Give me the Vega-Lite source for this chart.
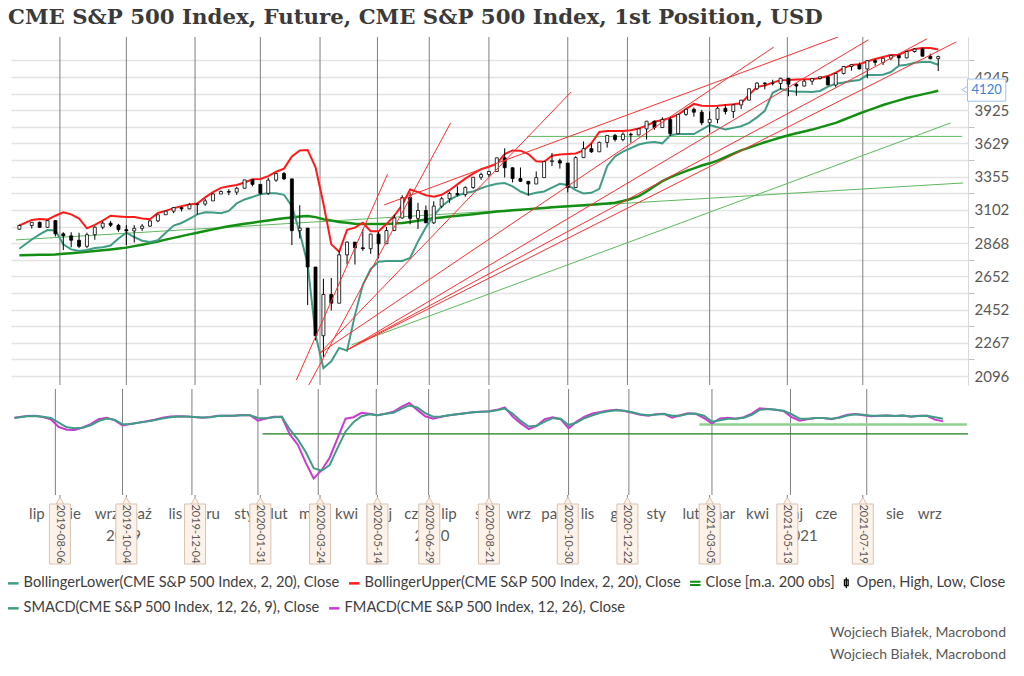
{
"$schema":"https://vega.github.io/schema/vega-lite/v6.json",
"background":"white",
"padding":{"left":6,"top":7,"right":4,"bottom":4},
"title":{"text":"CME S&P 500 Index, Future, CME S&P 500 Index, 1st Position, USD","anchor":"start","frame":"bounds","font":"DejaVu Serif","fontSize":21.3,"fontWeight":"bold","color":"#3a3a3a","offset":8,"dx":2},
"config":{"view":{"stroke":null},"font":"Lato","axis":{"labelFont":"Lato","labelColor":"#595959","labelFontSize":15,"domainColor":"#d9d9d9","tickColor":"#bfbfbf"}},
"datasets":{
"ev":[{"d":"2019-08-06","t":"2019-08-06"},{"d":"2019-10-04","t":"2019-10-04"},{"d":"2019-12-04","t":"2019-12-04"},{"d":"2020-01-31","t":"2020-01-31"},{"d":"2020-03-24","t":"2020-03-24"},{"d":"2020-05-14","t":"2020-05-14"},{"d":"2020-06-29","t":"2020-06-29"},{"d":"2020-08-21","t":"2020-08-21"},{"d":"2020-10-30","t":"2020-10-30"},{"d":"2020-12-22","t":"2020-12-22"},{"d":"2021-03-05","t":"2021-03-05"},{"d":"2021-05-13","t":"2021-05-13"},{"d":"2021-07-19","t":"2021-07-19"}],
"tr":[{"id":"r1","k":"r","d":"2020-03-03","v":2076},{"id":"r1","k":"r","d":"2020-05-23","v":3377},
{"id":"r2","k":"r","d":"2020-03-14","v":2052},{"id":"r2","k":"r","d":"2020-07-18","v":3809},
{"id":"r3","k":"r","d":"2020-03-23","v":2208},{"id":"r3","k":"r","d":"2020-11-02","v":4098},
{"id":"r4","k":"r","d":"2020-03-23","v":2208},{"id":"r4","k":"r","d":"2021-05-01","v":4557},
{"id":"r5","k":"r","d":"2020-04-17","v":2229},{"id":"r5","k":"r","d":"2021-07-24","v":4635},
{"id":"r6","k":"r","d":"2020-04-17","v":2229},{"id":"r6","k":"r","d":"2021-10-10","v":4612},
{"id":"r7","k":"r","d":"2020-04-17","v":2229},{"id":"r7","k":"r","d":"2021-09-14","v":4646},
{"id":"r8","k":"r","d":"2020-05-20","v":3139},{"id":"r8","k":"r","d":"2021-06-27","v":4666},
{"id":"g1","k":"g","d":"2020-09-24","v":3690},{"id":"g1","k":"g","d":"2021-10-15","v":3690},
{"id":"g2","k":"g","d":"2019-06-28","v":2890},{"id":"g2","k":"g","d":"2021-10-16","v":3306},
{"id":"g3","k":"g","d":"2020-04-21","v":2256},{"id":"g3","k":"g","d":"2021-10-05","v":3809}],
"hl":[{"id":"h1","d":"2020-02-04","v":-38},{"id":"h1","d":"2021-10-16","v":-38},{"id":"h2","d":"2021-02-22","v":0},{"id":"h2","d":"2021-10-15","v":0}],
"w":[
{"d":"2019-07-01","o":2964,"h":2996,"l":2962,"c":2990,"u":2990,"b":2830,"m":2787,"f":28,"s":27},
{"d":"2019-07-12","o":2990,"h":3014,"l":2969,"c":3013,"u":3030,"b":2893,"m":2789,"f":35,"s":34},
{"d":"2019-07-19","o":3013,"h":3018,"l":2975,"c":2977,"u":3037,"b":2928,"m":2790,"f":36,"s":35},
{"d":"2019-07-26","o":2977,"h":3027,"l":2976,"c":3025,"u":3032,"b":2958,"m":2791,"f":31,"s":32},
{"d":"2019-08-02","o":3025,"h":3028,"l":2914,"c":2932,"u":3060,"b":2955,"m":2793,"f":22,"s":27},
{"d":"2019-08-09","o":2932,"h":2943,"l":2822,"c":2918,"u":3085,"b":2860,"m":2797,"f":-10,"s":8},
{"d":"2019-08-16","o":2918,"h":2943,"l":2840,"c":2888,"u":3070,"b":2826,"m":2801,"f":-21,"s":-11},
{"d":"2019-08-23","o":2888,"h":2939,"l":2836,"c":2847,"u":3040,"b":2815,"m":2805,"f":-22,"s":-15},
{"d":"2019-08-30","o":2847,"h":2940,"l":2834,"c":2926,"u":2970,"b":2822,"m":2810,"f":-12,"s":-13},
{"d":"2019-09-06","o":2926,"h":2985,"l":2891,"c":2978,"u":2995,"b":2835,"m":2815,"f":2,"s":-3},
{"d":"2019-09-13","o":2978,"h":3020,"l":2964,"c":3007,"u":3025,"b":2841,"m":2820,"f":22,"s":14},
{"d":"2019-09-20","o":3007,"h":3022,"l":2980,"c":2992,"u":3060,"b":2852,"m":2826,"f":28,"s":25},
{"d":"2019-09-27","o":2992,"h":3002,"l":2946,"c":2961,"u":3055,"b":2900,"m":2832,"f":18,"s":20},
{"d":"2019-10-04","o":2961,"h":2993,"l":2855,"c":2952,"u":3050,"b":2940,"m":2838,"f":-4,"s":1},
{"d":"2019-10-11","o":2952,"h":2993,"l":2873,"c":2970,"u":3050,"b":2910,"m":2848,"f":2,"s":2},
{"d":"2019-10-18","o":2970,"h":3000,"l":2952,"c":2986,"u":3040,"b":2885,"m":2858,"f":8,"s":7},
{"d":"2019-10-25","o":2986,"h":3028,"l":2980,"c":3023,"u":3035,"b":2876,"m":2869,"f":14,"s":12},
{"d":"2019-11-01","o":3023,"h":3066,"l":3014,"c":3067,"u":3080,"b":2888,"m":2880,"f":20,"s":18},
{"d":"2019-11-08","o":3067,"h":3098,"l":3066,"c":3093,"u":3095,"b":2940,"m":2892,"f":28,"s":25},
{"d":"2019-11-15","o":3093,"h":3121,"l":3078,"c":3120,"u":3115,"b":2990,"m":2904,"f":33,"s":30},
{"d":"2019-11-22","o":3120,"h":3127,"l":3091,"c":3110,"u":3130,"b":3008,"m":2916,"f":34,"s":33},
{"d":"2019-11-29","o":3110,"h":3154,"l":3107,"c":3141,"u":3142,"b":3037,"m":2928,"f":33,"s":33},
{"d":"2019-12-06","o":3141,"h":3150,"l":3070,"c":3146,"u":3150,"b":3070,"m":2940,"f":31,"s":31},
{"d":"2019-12-13","o":3146,"h":3183,"l":3132,"c":3169,"u":3195,"b":3085,"m":2952,"f":28,"s":29},
{"d":"2019-12-20","o":3169,"h":3226,"l":3169,"c":3221,"u":3235,"b":3084,"m":2963,"f":31,"s":30},
{"d":"2019-12-27","o":3221,"h":3247,"l":3221,"c":3240,"u":3268,"b":3078,"m":2974,"f":36,"s":35},
{"d":"2020-01-03","o":3240,"h":3258,"l":3212,"c":3235,"u":3280,"b":3095,"m":2985,"f":36,"s":36},
{"d":"2020-01-10","o":3235,"h":3276,"l":3214,"c":3265,"u":3290,"b":3150,"m":2994,"f":36,"s":36},
{"d":"2020-01-17","o":3265,"h":3330,"l":3264,"c":3330,"u":3310,"b":3180,"m":3002,"f":39,"s":38},
{"d":"2020-01-24","o":3330,"h":3337,"l":3280,"c":3295,"u":3335,"b":3198,"m":3010,"f":38,"s":38},
{"d":"2020-01-31","o":3295,"h":3295,"l":3214,"c":3226,"u":3337,"b":3219,"m":3018,"f":16,"s":27},
{"d":"2020-02-07","o":3226,"h":3347,"l":3214,"c":3328,"u":3360,"b":3226,"m":3026,"f":25,"s":26},
{"d":"2020-02-14","o":3328,"h":3385,"l":3315,"c":3380,"u":3395,"b":3226,"m":3034,"f":32,"s":30},
{"d":"2020-02-21","o":3380,"h":3393,"l":3328,"c":3338,"u":3420,"b":3215,"m":3041,"f":32,"s":32},
{"d":"2020-02-28","o":3338,"h":3338,"l":2855,"c":2954,"u":3520,"b":3130,"m":3048,"f":-40,"s":-20},
{"d":"2020-03-06","o":2954,"h":3137,"l":2901,"c":2972,"u":3570,"b":2940,"m":3054,"f":-82,"s":-60},
{"d":"2020-03-13","o":2972,"h":2972,"l":2478,"c":2711,"u":3574,"b":2730,"m":3058,"f":-155,"s":-112},
{"d":"2020-03-20","o":2711,"h":2711,"l":2280,"c":2305,"u":3430,"b":2310,"m":3050,"f":-220,"s":-178},
{"d":"2020-03-27","o":2305,"h":2637,"l":2191,"c":2541,"u":3150,"b":2135,"m":3035,"f":-185,"s":-188},
{"d":"2020-04-03","o":2541,"h":2642,"l":2447,"c":2489,"u":2860,"b":2170,"m":3025,"f":-135,"s":-165},
{"d":"2020-04-10","o":2489,"h":2818,"l":2489,"c":2790,"u":2810,"b":2240,"m":3015,"f":-55,"s":-95},
{"d":"2020-04-17","o":2790,"h":2880,"l":2727,"c":2875,"u":2960,"b":2225,"m":3009,"f":24,"s":-28},
{"d":"2020-04-24","o":2875,"h":2876,"l":2727,"c":2837,"u":2975,"b":2420,"m":3003,"f":30,"s":10},
{"d":"2020-05-01","o":2837,"h":2965,"l":2816,"c":2831,"u":3010,"b":2600,"m":3001,"f":48,"s":34},
{"d":"2020-05-08","o":2831,"h":2933,"l":2797,"c":2930,"u":2950,"b":2700,"m":3000,"f":44,"s":42},
{"d":"2020-05-15","o":2930,"h":2945,"l":2766,"c":2864,"u":2950,"b":2745,"m":3000,"f":38,"s":38},
{"d":"2020-05-22","o":2864,"h":2980,"l":2864,"c":2955,"u":3000,"b":2750,"m":3000,"f":44,"s":44},
{"d":"2020-05-29","o":2955,"h":3068,"l":2955,"c":3044,"u":3060,"b":2750,"m":3004,"f":52,"s":48},
{"d":"2020-06-05","o":3044,"h":3212,"l":3038,"c":3194,"u":3139,"b":2750,"m":3008,"f":72,"s":64},
{"d":"2020-06-12","o":3194,"h":3233,"l":2999,"c":3041,"u":3255,"b":2770,"m":3015,"f":88,"s":78},
{"d":"2020-06-19","o":3041,"h":3155,"l":2966,"c":3098,"u":3235,"b":2880,"m":3024,"f":60,"s":70},
{"d":"2020-06-26","o":3098,"h":3135,"l":3007,"c":3009,"u":3212,"b":2978,"m":3033,"f":34,"s":47},
{"d":"2020-07-03","o":3009,"h":3166,"l":3001,"c":3130,"u":3200,"b":3060,"m":3042,"f":24,"s":32},
{"d":"2020-07-10","o":3130,"h":3200,"l":3115,"c":3185,"u":3215,"b":3130,"m":3048,"f":32,"s":33},
{"d":"2020-07-17","o":3185,"h":3238,"l":3155,"c":3225,"u":3250,"b":3175,"m":3054,"f":38,"s":38},
{"d":"2020-07-24","o":3225,"h":3280,"l":3201,"c":3216,"u":3295,"b":3210,"m":3059,"f":42,"s":42},
{"d":"2020-07-31","o":3216,"h":3279,"l":3200,"c":3271,"u":3340,"b":3228,"m":3065,"f":46,"s":46},
{"d":"2020-08-07","o":3271,"h":3352,"l":3260,"c":3351,"u":3380,"b":3240,"m":3071,"f":50,"s":50},
{"d":"2020-08-14","o":3351,"h":3388,"l":3330,"c":3373,"u":3415,"b":3265,"m":3078,"f":52,"s":52},
{"d":"2020-08-21","o":3373,"h":3399,"l":3355,"c":3397,"u":3435,"b":3285,"m":3084,"f":54,"s":53},
{"d":"2020-08-28","o":3397,"h":3509,"l":3396,"c":3508,"u":3460,"b":3300,"m":3090,"f":60,"s":58},
{"d":"2020-09-04","o":3508,"h":3588,"l":3349,"c":3427,"u":3540,"b":3305,"m":3095,"f":70,"s":65},
{"d":"2020-09-11","o":3427,"h":3430,"l":3310,"c":3341,"u":3570,"b":3280,"m":3099,"f":32,"s":44},
{"d":"2020-09-18","o":3341,"h":3429,"l":3313,"c":3319,"u":3568,"b":3240,"m":3104,"f":5,"s":15},
{"d":"2020-09-25","o":3319,"h":3320,"l":3209,"c":3298,"u":3540,"b":3215,"m":3108,"f":-18,"s":-8},
{"d":"2020-10-02","o":3298,"h":3397,"l":3297,"c":3348,"u":3480,"b":3230,"m":3112,"f":-5,"s":-5},
{"d":"2020-10-09","o":3348,"h":3482,"l":3348,"c":3477,"u":3475,"b":3240,"m":3117,"f":22,"s":12},
{"d":"2020-10-16","o":3477,"h":3549,"l":3440,"c":3484,"u":3525,"b":3270,"m":3121,"f":30,"s":26},
{"d":"2020-10-23","o":3484,"h":3502,"l":3420,"c":3465,"u":3535,"b":3300,"m":3125,"f":22,"s":24},
{"d":"2020-10-30","o":3465,"h":3465,"l":3233,"c":3270,"u":3540,"b":3290,"m":3129,"f":-15,"s":-2},
{"d":"2020-11-06","o":3270,"h":3521,"l":3268,"c":3510,"u":3545,"b":3250,"m":3133,"f":12,"s":8},
{"d":"2020-11-13","o":3510,"h":3646,"l":3506,"c":3585,"u":3570,"b":3225,"m":3136,"f":32,"s":26},
{"d":"2020-11-20","o":3585,"h":3628,"l":3550,"c":3558,"u":3630,"b":3230,"m":3140,"f":45,"s":38},
{"d":"2020-11-27","o":3558,"h":3645,"l":3558,"c":3638,"u":3729,"b":3260,"m":3145,"f":51,"s":48},
{"d":"2020-12-04","o":3638,"h":3700,"l":3594,"c":3699,"u":3737,"b":3440,"m":3150,"f":57,"s":54},
{"d":"2020-12-11","o":3699,"h":3712,"l":3645,"c":3663,"u":3737,"b":3520,"m":3155,"f":60,"s":58},
{"d":"2020-12-18","o":3663,"h":3726,"l":3647,"c":3709,"u":3738,"b":3560,"m":3168,"f":55,"s":56},
{"d":"2020-12-25","o":3709,"h":3723,"l":3636,"c":3703,"u":3744,"b":3590,"m":3183,"f":48,"s":50},
{"d":"2021-01-01","o":3703,"h":3760,"l":3700,"c":3756,"u":3760,"b":3620,"m":3205,"f":40,"s":42},
{"d":"2021-01-08","o":3756,"h":3826,"l":3663,"c":3825,"u":3785,"b":3635,"m":3240,"f":36,"s":38},
{"d":"2021-01-15","o":3825,"h":3830,"l":3749,"c":3768,"u":3820,"b":3642,"m":3280,"f":42,"s":41},
{"d":"2021-01-22","o":3768,"h":3861,"l":3768,"c":3841,"u":3835,"b":3630,"m":3320,"f":44,"s":43},
{"d":"2021-01-29","o":3841,"h":3870,"l":3694,"c":3714,"u":3855,"b":3700,"m":3350,"f":28,"s":36},
{"d":"2021-02-05","o":3714,"h":3888,"l":3710,"c":3887,"u":3885,"b":3710,"m":3375,"f":38,"s":36},
{"d":"2021-02-12","o":3887,"h":3937,"l":3874,"c":3934,"u":3935,"b":3710,"m":3400,"f":46,"s":44},
{"d":"2021-02-19","o":3934,"h":3950,"l":3866,"c":3907,"u":3984,"b":3710,"m":3422,"f":44,"s":44},
{"d":"2021-02-26","o":3907,"h":3929,"l":3789,"c":3811,"u":3967,"b":3750,"m":3445,"f":26,"s":36},
{"d":"2021-03-05","o":3811,"h":3915,"l":3723,"c":3842,"u":3965,"b":3790,"m":3463,"f":4,"s":12},
{"d":"2021-03-12","o":3842,"h":3960,"l":3806,"c":3943,"u":3968,"b":3770,"m":3485,"f":25,"s":18},
{"d":"2021-03-19","o":3943,"h":3983,"l":3886,"c":3913,"u":3975,"b":3750,"m":3513,"f":28,"s":24},
{"d":"2021-03-26","o":3913,"h":3978,"l":3853,"c":3975,"u":3980,"b":3765,"m":3542,"f":24,"s":24},
{"d":"2021-04-02","o":3975,"h":4020,"l":3937,"c":4020,"u":3990,"b":3780,"m":3570,"f":30,"s":28},
{"d":"2021-04-09","o":4020,"h":4130,"l":4020,"c":4129,"u":4070,"b":3810,"m":3594,"f":45,"s":40},
{"d":"2021-04-16","o":4129,"h":4192,"l":4118,"c":4185,"u":4147,"b":3860,"m":3617,"f":66,"s":60},
{"d":"2021-04-23","o":4185,"h":4194,"l":4124,"c":4180,"u":4162,"b":3920,"m":3640,"f":64,"s":63},
{"d":"2021-04-30","o":4180,"h":4218,"l":4162,"c":4181,"u":4190,"b":4090,"m":3660,"f":60,"s":60},
{"d":"2021-05-07","o":4181,"h":4238,"l":4126,"c":4233,"u":4214,"b":4130,"m":3680,"f":55,"s":56},
{"d":"2021-05-14","o":4233,"h":4236,"l":4057,"c":4174,"u":4216,"b":4110,"m":3700,"f":30,"s":42},
{"d":"2021-05-21","o":4174,"h":4183,"l":4061,"c":4156,"u":4220,"b":4100,"m":3717,"f":16,"s":24},
{"d":"2021-05-28","o":4156,"h":4219,"l":4152,"c":4204,"u":4222,"b":4100,"m":3733,"f":22,"s":24},
{"d":"2021-06-04","o":4204,"h":4233,"l":4167,"c":4230,"u":4224,"b":4098,"m":3750,"f":27,"s":27},
{"d":"2021-06-11","o":4230,"h":4249,"l":4220,"c":4247,"u":4235,"b":4108,"m":3770,"f":27,"s":27},
{"d":"2021-06-18","o":4247,"h":4257,"l":4165,"c":4166,"u":4255,"b":4150,"m":3790,"f":22,"s":24},
{"d":"2021-06-25","o":4166,"h":4286,"l":4144,"c":4281,"u":4290,"b":4178,"m":3810,"f":30,"s":28},
{"d":"2021-07-02","o":4281,"h":4356,"l":4271,"c":4352,"u":4335,"b":4190,"m":3838,"f":40,"s":37},
{"d":"2021-07-09","o":4352,"h":4372,"l":4310,"c":4370,"u":4368,"b":4205,"m":3866,"f":43,"s":42},
{"d":"2021-07-16","o":4370,"h":4393,"l":4321,"c":4327,"u":4375,"b":4215,"m":3895,"f":38,"s":40},
{"d":"2021-07-23","o":4327,"h":4415,"l":4233,"c":4412,"u":4405,"b":4265,"m":3921,"f":34,"s":36},
{"d":"2021-07-30","o":4412,"h":4430,"l":4360,"c":4395,"u":4430,"b":4265,"m":3947,"f":36,"s":36},
{"d":"2021-08-06","o":4395,"h":4440,"l":4367,"c":4437,"u":4450,"b":4268,"m":3974,"f":37,"s":37},
{"d":"2021-08-13","o":4437,"h":4468,"l":4416,"c":4468,"u":4472,"b":4296,"m":3996,"f":35,"s":35},
{"d":"2021-08-20","o":4468,"h":4482,"l":4367,"c":4442,"u":4475,"b":4360,"m":4018,"f":37,"s":37},
{"d":"2021-08-27","o":4442,"h":4513,"l":4435,"c":4509,"u":4510,"b":4370,"m":4040,"f":32,"s":33},
{"d":"2021-09-03","o":4509,"h":4545,"l":4497,"c":4535,"u":4535,"b":4390,"m":4058,"f":36,"s":35},
{"d":"2021-09-10","o":4535,"h":4549,"l":4459,"c":4459,"u":4546,"b":4399,"m":4075,"f":36,"s":36},
{"d":"2021-09-17","o":4459,"h":4486,"l":4427,"c":4433,"u":4546,"b":4399,"m":4092,"f":20,"s":30},
{"d":"2021-09-24","o":4433,"h":4465,"l":4306,"c":4455,"u":4530,"b":4370,"m":4110,"f":13,"s":24}
]},
"spacing":4,
"bounds":"flush",
"resolve":{"scale":{"color":"independent","x":"independent","y":"independent"}},
"vconcat":[
{
"width":957,"height":348,
"resolve":{"axis":{"y":"independent"}},
"layer":[
{"data":{"name":"ev"},"mark":{"type":"rule","color":"#7f7f7f","strokeWidth":1},"encoding":{"x":{"field":"d","type":"temporal","scale":{"type":"utc","domain":[{"year":2019,"month":6,"date":28,"utc":true},{"year":2021,"month":10,"date":16,"utc":true}]},"axis":null}}},
{"data":{"name":"tr"},"transform":[{"filter":"datum.k == 'g'"}],"mark":{"type":"line","color":"#5fb85f","strokeWidth":1,"clip":true},"encoding":{"x":{"field":"d","type":"temporal","axis":null},"y":{"field":"v","type":"quantitative","scale":{"type":"log","domain":[2052,4666],"nice":false,"zero":false},"axis":null},"detail":{"field":"id"}}},
{"data":{"name":"w"},"mark":{"type":"line","strokeWidth":2.5},"encoding":{"x":{"field":"d","type":"temporal","axis":null},"y":{"field":"m","type":"quantitative","axis":{"orient":"right","title":null,"values":[2096,2180,2267,2358,2452,2550,2652,2758,2868,2983,3102,3226,3355,3489,3629,3774,3925,4082,4245,4415],"labelExpr":"indexof([2096,2267,2452,2652,2868,3102,3355,3629,3925,4245], datum.value) >= 0 ? format(datum.value, 'd') : ''","grid":true,"gridColor":"#e4e4e4","gridWidth":1.5,"ticks":false,"domain":false,"labelOverlap":false,"labelFlush":false,"labelPadding":6}},"color":{"datum":"Close [m.a. 200 obs]","scale":{"domain":["BollingerLower(CME S&P 500 Index, 2, 20), Close","BollingerUpper(CME S&P 500 Index, 2, 20), Close","Close [m.a. 200 obs]","Open, High, Low, Close"],"range":["#3f9c85","#ff1a1a","#138f13","#000000"]},"legend":{"orient":"none","legendX":-5,"legendY":538,"direction":"horizontal","title":null,"symbolType":"stroke","symbolStrokeWidth":2.5,"symbolSize":110,"labelFont":"Lato","labelFontSize":14.6,"labelColor":"#404040","labelLimit":600,"columnPadding":4,"labelOffset":3,"encode":{"symbols":{"update":{"shape":{"signal":"datum.value == 'Open, High, Low, Close' ? 'M0,-1L0,1M-0.35,-0.55L0.35,-0.55L0.35,0.55L-0.35,0.55Z' : (datum.value == 'Close [m.a. 200 obs]' ? 'M-1,-0.3L1,-0.3M-1,0.3L1,0.3' : 'stroke')"},"strokeWidth":{"signal":"datum.value == 'Open, High, Low, Close' ? 1.3 : (datum.value == 'Close [m.a. 200 obs]' ? 2 : 2.5)"}}}}}}}},
{"data":{"name":"w"},"mark":{"type":"line","strokeWidth":2},"encoding":{"x":{"field":"d","type":"temporal","axis":null},"y":{"field":"b","type":"quantitative","axis":{"orient":"right","title":null,"values":[2180,2358,2550,2758,2983,3226,3489,3774,4082,4415],"labels":false,"grid":false,"ticks":true,"tickSize":6,"domain":true}},"color":{"datum":"BollingerLower(CME S&P 500 Index, 2, 20), Close"}}},
{"data":{"name":"w"},"mark":{"type":"line","strokeWidth":2},"encoding":{"x":{"field":"d","type":"temporal","axis":null},"y":{"field":"u","type":"quantitative","axis":null},"color":{"datum":"BollingerUpper(CME S&P 500 Index, 2, 20), Close"}}},
{"data":{"name":"w"},"mark":{"type":"rule","strokeWidth":1},"encoding":{"x":{"field":"d","type":"temporal","axis":null},"y":{"field":"l","type":"quantitative","axis":null},"y2":{"field":"h"},"color":{"datum":"Open, High, Low, Close"}}},
{"data":{"name":"w"},"mark":{"type":"bar","width":3,"stroke":"#000000","strokeWidth":0.8},"encoding":{"x":{"field":"d","type":"temporal","axis":null},"y":{"field":"o","type":"quantitative","axis":null},"y2":{"field":"c"},"fill":{"condition":{"test":"datum.c < datum.o","value":"#000000"},"value":"#ffffff"}}},
{"data":{"name":"tr"},"transform":[{"filter":"datum.k == 'r'"}],"mark":{"type":"line","color":"#ff3030","strokeWidth":1,"clip":true},"encoding":{"x":{"field":"d","type":"temporal","axis":null},"y":{"field":"v","type":"quantitative","axis":null},"detail":{"field":"id"}}},
{"data":{"values":[{}]},"mark":{"type":"point","shape":"triangle-left","filled":true,"fill":"#ffffff","stroke":"#9cc3ef","strokeWidth":1,"size":60,"opacity":1},"encoding":{"x":{"datum":{"year":2021,"month":10,"date":18,"utc":true},"type":"temporal","axis":null},"y":{"datum":4120,"type":"quantitative","axis":null}}},
{"data":{"values":[{}]},"mark":{"type":"rect","fill":"#ffffff","stroke":"#9cc3ef","strokeWidth":1},"encoding":{"x":{"datum":{"year":2021,"month":10,"date":20,"utc":true},"type":"temporal","axis":null},"x2":{"datum":{"year":2021,"month":11,"date":23,"utc":true}},"y":{"datum":4010,"type":"quantitative","axis":null},"y2":{"datum":4225}}},
{"data":{"values":[{}]},"mark":{"type":"text","text":"4120","color":"#3c82dc","fontSize":13,"font":"Lato"},"encoding":{"x":{"datum":{"year":2021,"month":11,"date":6,"utc":true},"type":"temporal","axis":null},"y":{"datum":4120,"type":"quantitative","axis":null}}}
]
},
{
"spacing":0,
"bounds":"flush",
"resolve":{"scale":{"color":"independent","x":"independent","y":"independent"}},
"vconcat":[
{
"width":957,"height":106,
"layer":[
{"data":{"name":"ev"},"mark":{"type":"rule","color":"#7f7f7f","strokeWidth":1},"encoding":{"x":{"field":"d","type":"temporal","scale":{"type":"utc","domain":[{"year":2019,"month":6,"date":28,"utc":true},{"year":2021,"month":10,"date":16,"utc":true}]},"axis":{"orient":"bottom","title":null,"tickCount":{"interval":"month","step":1},"labels":false,"ticks":true,"tickSize":4,"tickColor":"#a6a6a6","domain":true,"domainColor":"#d9d9d9","grid":false}}}},
{"data":{"name":"hl"},"transform":[{"filter":"datum.id == 'h1'"}],"mark":{"type":"line","color":"#1e7d1e","strokeWidth":1.2},"encoding":{"x":{"field":"d","type":"temporal","axis":null},"y":{"field":"v","type":"quantitative","scale":{"domain":[-287,145],"nice":false,"zero":false},"axis":{"orient":"right","title":null,"values":[-250,-200,-150,-100,-50,0,50,100],"labelExpr":"(datum.value == 50 || datum.value == -100 || datum.value == -250) ? format(datum.value, 'd') : ''","grid":true,"gridColor":"#e4e4e4","gridWidth":1.5,"ticks":true,"tickSize":6,"domain":true,"labelOverlap":false,"labelFlush":false,"labelPadding":6}}}},
{"data":{"name":"hl"},"transform":[{"filter":"datum.id == 'h2'"}],"mark":{"type":"line","color":"#8fd08f","strokeWidth":2.5},"encoding":{"x":{"field":"d","type":"temporal","axis":null},"y":{"field":"v","type":"quantitative","axis":null}}},
{"data":{"name":"w"},"mark":{"type":"line","strokeWidth":2},"encoding":{"x":{"field":"d","type":"temporal","axis":null},"y":{"field":"f","type":"quantitative","axis":null},"color":{"datum":"FMACD(CME S&P 500 Index, 12, 26), Close","scale":{"domain":["SMACD(CME S&P 500 Index, 12, 26, 9), Close","FMACD(CME S&P 500 Index, 12, 26), Close"],"range":["#3f9c85","#c83cd2"]},"legend":{"orient":"none","legendX":-5,"legendY":212,"direction":"horizontal","title":null,"symbolType":"stroke","symbolStrokeWidth":2.5,"symbolSize":110,"labelFont":"Lato","labelFontSize":14.6,"labelColor":"#404040","labelLimit":600,"columnPadding":4,"labelOffset":3}}}},
{"data":{"name":"w"},"mark":{"type":"line","strokeWidth":2},"encoding":{"x":{"field":"d","type":"temporal","axis":null},"y":{"field":"s","type":"quantitative","axis":null},"color":{"datum":"SMACD(CME S&P 500 Index, 12, 26, 9), Close"}}}
]
},
{
"width":957,"height":72,
"data":{"name":"ev"},
"resolve":{"axis":{"x":"independent"}},
"title":{"text":"Wojciech Białek, Macrobond","subtitle":"Wojciech Białek, Macrobond","orient":"bottom","anchor":"end","frame":"group","font":"Lato","fontSize":14,"fontWeight":"normal","color":"#595959","subtitleFont":"Lato","subtitleFontSize":14,"subtitleColor":"#595959","offset":59,"subtitlePadding":8,"dx":38},
"layer":[
{"mark":{"type":"rule","color":"#7f7f7f","strokeWidth":1},"encoding":{"x":{"field":"d","type":"temporal","scale":{"type":"utc","domain":[{"year":2019,"month":6,"date":28,"utc":true},{"year":2021,"month":10,"date":16,"utc":true}]},"axis":{"orient":"bottom","offset":-54,"title":null,"tickCount":{"interval":"month","step":1},"labelExpr":"datum.value >= 1633046400000 ? '' : ['sty','lut','mar','kwi','maj','cze','lip','sie','wrz','paź','lis','gru'][utcmonth(datum.value)]","labelOffset":17,"labelAlign":"center","labelBaseline":"middle","labelPadding":0,"ticks":false,"domain":false,"grid":false,"labelFontSize":15,"labelColor":"#595959","labelOverlap":false,"labelFlush":false}},"y":{"datum":0,"type":"quantitative","scale":{"domain":[72,0],"nice":false,"zero":false},"axis":null},"y2":{"datum":5}}},
{"mark":{"type":"point","shape":"triangle-up","filled":true,"fill":"#fdf2e9","stroke":"#d9c3b0","strokeWidth":1,"size":70,"opacity":1},"encoding":{"x":{"field":"d","type":"temporal","axis":{"orient":"bottom","offset":-32,"title":null,"values":[{"year":2019,"month":10,"date":1,"utc":true},{"year":2020,"month":7,"date":1,"utc":true},{"year":2021,"month":5,"date":24,"utc":true}],"labelExpr":"'' + utcyear(datum.value)","labelAlign":"center","labelBaseline":"middle","labelPadding":0,"ticks":false,"domain":false,"grid":false,"labelFontSize":15,"labelColor":"#595959","labelOverlap":false,"labelFlush":false}},"y":{"datum":6,"type":"quantitative"}}},
{"mark":{"type":"bar","width":21,"fill":"#fdf2e9","stroke":"#d9c3b0","strokeWidth":1},"encoding":{"x":{"field":"d","type":"temporal","axis":null},"y":{"datum":9,"type":"quantitative"},"y2":{"datum":69}}},
{"mark":{"type":"text","angle":90,"fontSize":11,"font":"Lato","color":"#595959","align":"center","baseline":"middle"},"encoding":{"x":{"field":"d","type":"temporal","axis":null},"y":{"datum":39,"type":"quantitative"},"text":{"field":"t","type":"nominal"}}}
]
}
]
}
]
}
